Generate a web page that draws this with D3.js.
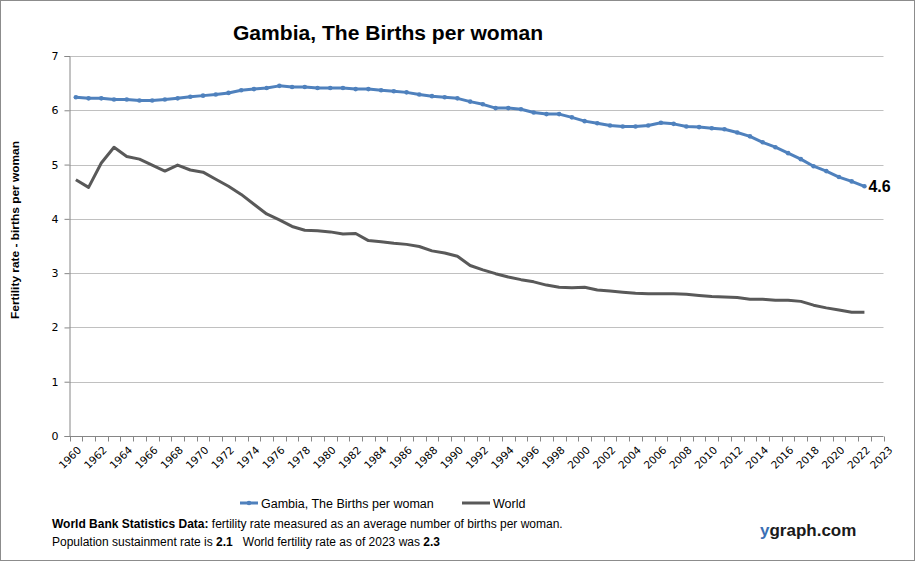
<!DOCTYPE html>
<html><head><meta charset="utf-8">
<script src="https://cdn.jsdelivr.net/npm/d3@7"></script>
<style>
html,body{margin:0;padding:0;background:#fff;}
svg{display:block;}
</style></head>
<body>
<script>
const years = d3.range(1960, 2024);
const xTickLabels = ["1960","1962","1964","1966","1968","1970","1972","1974","1976","1978","1980","1982","1984","1986","1988","1990","1992","1994","1996","1998","2000","2002","2004","2006","2008","2010","2012","2014","2016","2018","2020","2022","2023"];
const yTicks = [0,1,2,3,4,5,6,7];
const gambia = [6.24,6.22,6.22,6.20,6.20,6.18,6.18,6.20,6.22,6.25,6.27,6.29,6.32,6.37,6.39,6.41,6.45,6.43,6.43,6.41,6.41,6.41,6.39,6.39,6.37,6.35,6.33,6.29,6.26,6.24,6.22,6.16,6.11,6.04,6.04,6.02,5.96,5.93,5.93,5.87,5.80,5.76,5.72,5.70,5.70,5.72,5.77,5.75,5.70,5.69,5.67,5.65,5.59,5.52,5.41,5.32,5.21,5.10,4.97,4.88,4.77,4.69,4.60];
const world = [4.72,4.58,5.03,5.32,5.15,5.10,4.99,4.88,4.99,4.90,4.86,4.73,4.60,4.45,4.27,4.09,3.98,3.86,3.79,3.78,3.76,3.72,3.73,3.60,3.58,3.55,3.53,3.49,3.41,3.37,3.31,3.14,3.06,2.99,2.93,2.88,2.84,2.78,2.74,2.73,2.74,2.69,2.67,2.65,2.63,2.62,2.62,2.62,2.61,2.59,2.57,2.56,2.55,2.52,2.52,2.50,2.50,2.48,2.41,2.36,2.32,2.28,2.28];
const seriesNames = ["Gambia, The Births per woman","World"];
const lastLabel = "4.6";

const W = 915, H = 561;
const svg = d3.select("body").append("svg").attr("width", W).attr("height", H);
svg.append("rect").attr("x",0.5).attr("y",0.5).attr("width",W-1).attr("height",H-1)
  .attr("fill","#fff").attr("stroke","#8c8c8c").attr("stroke-width",1);

const pL = 69.5, pR = 883.5, pT = 56, pB = 436;
const x = d3.scaleBand().domain(years).range([pL, pR]);
const xc = d => x(d) + x.bandwidth()/2;
const y = d3.scaleLinear().domain([0,7]).range([pB, pT]);

// gridlines
svg.append("g").selectAll("line").data(yTicks.filter(d=>d>0)).join("line")
  .attr("x1", pL).attr("x2", pR)
  .attr("y1", d=>Math.round(y(d))+0.5).attr("y2", d=>Math.round(y(d))+0.5)
  .attr("stroke","#c0c0c0").attr("stroke-width",1);

// y axis
const yAxis = d3.axisLeft(y).tickValues(yTicks).tickSize(5).tickPadding(6).tickFormat(d3.format("d"));
const gy = svg.append("g").attr("transform", `translate(${pL},0)`).call(yAxis);
gy.select(".domain").attr("stroke","#868686");
gy.selectAll(".tick line").attr("stroke","#868686");
gy.selectAll(".tick text").attr("font-family","DejaVu Sans, sans-serif").attr("font-size",11).attr("fill","#000");

// x axis
const gx = svg.append("g").attr("transform", `translate(0,${pB+0.5})`);
gx.append("line").attr("x1",pL).attr("x2",pR).attr("stroke","#868686");
gx.selectAll("line.t").data(d3.range(0, years.length+1)).join("line").attr("class","t")
  .attr("x1", i=>Math.round(pL + i*x.step())+0.5).attr("x2", i=>Math.round(pL + i*x.step())+0.5)
  .attr("y1",0).attr("y2",5).attr("stroke","#868686");
gx.selectAll("text").data(xTickLabels).join("text")
  .attr("transform", d=>`translate(${xc(+d) + (d==="2023" ? 11 : 1)},${9}) rotate(-45)`)
  .attr("text-anchor","end").attr("dy","0.7em")
  .attr("font-family","DejaVu Sans, sans-serif").attr("font-size",10.5).attr("fill","#000")
  .text(d=>d);

// lines
const line = d3.line().x((d,i)=>xc(years[i])).y(d=>y(d));
svg.append("path").datum(world).attr("d", line).attr("fill","none")
  .attr("stroke","#595959").attr("stroke-width",3).attr("stroke-linejoin","round");
svg.append("path").datum(gambia).attr("d", line).attr("fill","none")
  .attr("stroke","#4f81bd").attr("stroke-width",3).attr("stroke-linejoin","round");
svg.append("g").selectAll("circle").data(gambia).join("circle")
  .attr("cx",(d,i)=>xc(years[i])).attr("cy",d=>y(d)).attr("r",2.3).attr("fill","#4f81bd");

// last value label
svg.append("text").attr("x", xc(years[gambia.length-1])+4).attr("y", y(gambia[gambia.length-1])+6)
  .attr("font-family","Liberation Sans, sans-serif").attr("font-weight","bold").attr("font-size",16).text(lastLabel);

// title
svg.append("text").attr("x",233).attr("y",40)
  .attr("font-family","Liberation Sans, sans-serif").attr("font-weight","bold").attr("font-size",20)
  .attr("textLength",310).attr("lengthAdjust","spacingAndGlyphs")
  .attr("fill","#000").text("Gambia, The Births per woman");

// y title
svg.append("text").attr("transform","translate(19,230) rotate(-90)").attr("text-anchor","middle")
  .attr("font-family","Liberation Sans, sans-serif").attr("font-weight","bold").attr("font-size",11)
  .attr("textLength",178).attr("lengthAdjust","spacingAndGlyphs")
  .text("Fertility rate  - births per woman");

// legend
const lg = svg.append("g").attr("font-family","Liberation Sans, sans-serif").attr("font-size",12.5).attr("fill","#000");
lg.append("line").attr("x1",240).attr("x2",258).attr("y1",503).attr("y2",503).attr("stroke","#4f81bd").attr("stroke-width",3);
lg.append("circle").attr("cx",249).attr("cy",503).attr("r",2.3).attr("fill","#4f81bd");
lg.append("text").attr("x",261).attr("y",507.5).text(seriesNames[0]);
lg.append("line").attr("x1",462).attr("x2",490).attr("y1",503).attr("y2",503).attr("stroke","#595959").attr("stroke-width",3);
lg.append("text").attr("x",493).attr("y",507.5).text(seriesNames[1]);

// footer
const ft = svg.append("g").attr("font-family","Liberation Sans, sans-serif").attr("font-size",12).attr("fill","#000");
const t1 = ft.append("text").attr("x",52).attr("y",528);
t1.append("tspan").attr("font-weight","bold").text("World Bank Statistics Data:");
t1.append("tspan").text(" fertility rate measured as an average number of births per woman.");
const t2 = ft.append("text").attr("x",52).attr("y",546);
t2.append("tspan").text("Population sustainment rate is ");
t2.append("tspan").attr("font-weight","bold").text("2.1");
t2.append("tspan").text("\u00a0\u00a0\u00a0World fertility rate as of 2023 was ");
t2.append("tspan").attr("font-weight","bold").text("2.3");

const yg = svg.append("text").attr("x",760).attr("y",536).attr("font-family","Liberation Sans, sans-serif")
  .attr("font-weight","bold").attr("font-size",17);
yg.append("tspan").attr("fill","#3a6fb5").text("y");
yg.append("tspan").attr("fill","#1a1a1a").text("graph.com");
</script>
</body></html>
